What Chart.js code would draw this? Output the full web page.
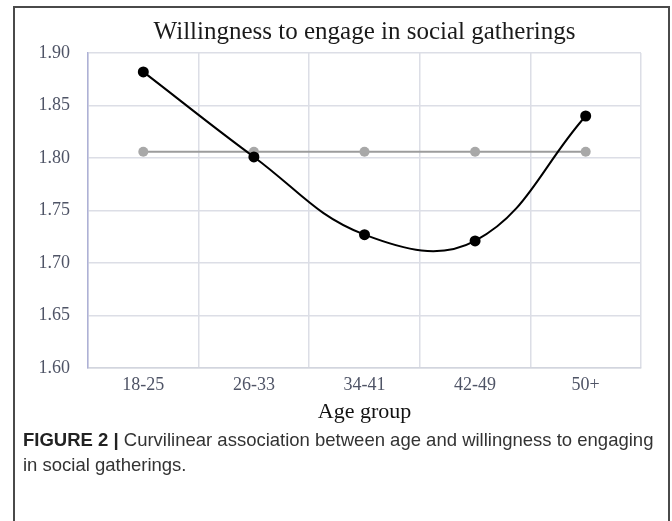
<!DOCTYPE html>
<html>
<head>
<meta charset="utf-8">
<script src="https://cdn.jsdelivr.net/npm/chart.js@4.4.1/dist/chart.umd.min.js"></script>
<style>
  html, body { margin: 0; padding: 0; background: #fff; }
  body { width: 672px; height: 521px; position: relative; overflow: hidden; }
  .frame {
    position: absolute; left: 13px; top: 6px; width: 657px; height: 540px;
    border: 2px solid #4a4a4a; box-sizing: border-box;
  }
  #chartWrap { position: absolute; left: 0; top: 0; width: 672px; height: 430px; }
  .caption {
    position: absolute; left: 23px; top: 427px; width: 645px;
    font-family: "Liberation Sans", Arial, sans-serif; font-size: 18.5px;
    line-height: 25px; color: #333;
  }
  .caption b { color: #222; }
</style>
</head>
<body>
<div class="frame"></div>
<div id="chartWrap"><canvas id="chart"></canvas></div>
<div class="caption"><b>FIGURE 2 |</b> Curvilinear association between age and willingness to engaging<br>in social gatherings.</div>
<script>
'use strict';

// Age group categories
const ageGroups = ['18-25', '26-33', '34-41', '42-49', '50+'];

// Mean willingness per age group (black curve)
const willingness = [1.882, 1.801, 1.727, 1.721, 1.840];

// Overall mean reference line (grey)
const overallMean = [1.806, 1.806, 1.806, 1.806, 1.806];

// Y axis range
const yMin = 1.60;
const yMax = 1.90;
const yStep = 0.05;

const serif = '"Liberation Serif", "Times New Roman", serif';

const chartConfig = {
  type: 'line',
  data: {
    labels: ageGroups,
    datasets: [
      {
        data: willingness,
        borderColor: '#000000',
        backgroundColor: '#000000',
        borderWidth: 2,
        tension: 0.4,
        pointRadius: 5.5,
        pointBorderWidth: 0,
        fill: false,
      },
      {
        data: overallMean,
        borderColor: '#9c9c9c',
        backgroundColor: '#a8a8a8',
        borderWidth: 2,
        tension: 0,
        pointRadius: 5,
        pointBorderWidth: 0,
        fill: false,
      },
    ],
  },
  options: {
    responsive: true,
    maintainAspectRatio: false,
    animation: false,
    layout: {
      padding: { left: 0, right: 31, top: 0, bottom: 2 },
    },
    plugins: {
      legend: { display: false },
      tooltip: { enabled: false },
      title: {
        display: true,
        text: 'Willingness to engage in social gatherings',
        fullSize: false,
        color: '#1a1a1a',
        font: { family: serif, size: 25, weight: 'normal', lineHeight: 1.2 },
        padding: { top: 17, bottom: 6 },
      },
    },
    scales: {
      x: {
        offset: true,
        grid: {
          offset: true,
          color: '#dcdee6',
          lineWidth: 1.5,
          drawTicks: false,
        },
        border: { color: '#d2d5de', width: 1.5 },
        ticks: {
          color: '#4f5466',
          font: { family: serif, size: 18, lineHeight: 1.2 },
          padding: 6,
        },
        title: {
          display: true,
          text: 'Age group',
          color: '#111111',
          font: { family: serif, size: 22, lineHeight: 1.2 },
          padding: { top: 0, bottom: 3 },
        },
        afterFit: (scale) => {
          scale.height = 60;
        },
      },
      y: {
        min: yMin,
        max: yMax,
        grid: {
          color: '#dcdee6',
          lineWidth: 1.5,
          drawTicks: false,
        },
        border: { color: '#aeb1d6', width: 1.5 },
        ticks: {
          stepSize: yStep,
          color: '#4f5466',
          font: { family: serif, size: 18 },
          padding: 18,
          callback: (v) => Number(v).toFixed(2),
        },
        afterFit: (scale) => {
          scale.width = 88;
        },
      },
    },
  },
};

new Chart(document.getElementById('chart'), chartConfig);
</script>
</body>
</html>
